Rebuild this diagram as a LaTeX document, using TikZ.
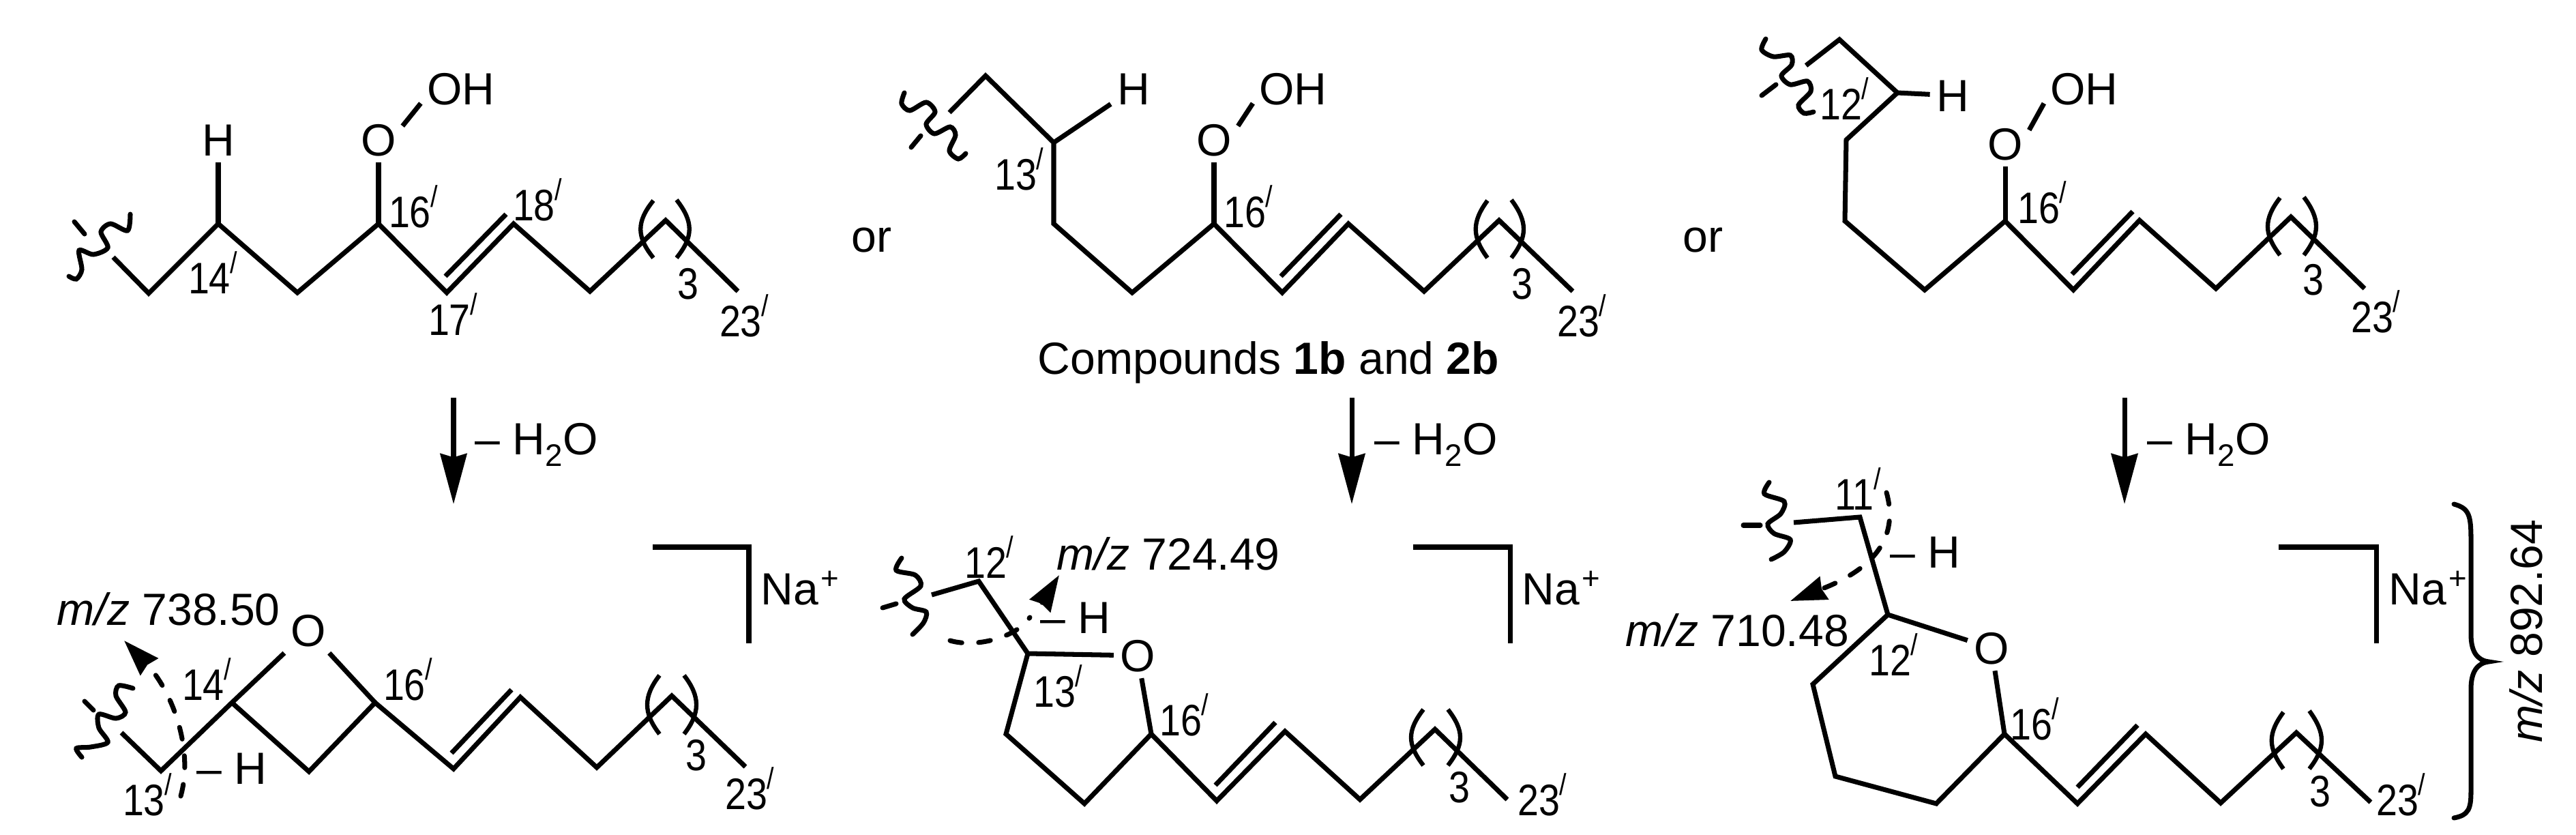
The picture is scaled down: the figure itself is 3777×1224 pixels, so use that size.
\documentclass[tikz,border=0pt]{standalone}
\usepackage{fontspec}
\setmainfont{Liberation Sans}
\newfontfamily\lblfam[FakeStretch=0.86]{Liberation Sans}
\usetikzlibrary{arrows.meta}
\newcommand{\pr}{\rlap{\raisebox{8.5pt}{\fontsize{12.5}{12.5}\selectfont /}}}
\newcommand{\mz}{\textit{m/z}}
\newcommand{\water}{– H\raisebox{-4.7pt}{\fontsize{13}{13}\selectfont 2}O}
\newcommand{\sodium}{Na\hspace{1pt}\raisebox{6.5pt}{\fontsize{13}{13}\selectfont +}}
\tikzset{
  bond/.style={line width=2pt,line join=miter},
  ring/.style={line width=1.8pt},
  wave/.style={line width=2pt,line cap=round},
  txt/.style={font=\fontsize{18.8}{22}\selectfont,text height=13.5pt,text depth=0pt,inner sep=2.5pt},
  lbl/.style={font=\lblfam\fontsize{18.4}{20}\selectfont,text height=13.2pt,text depth=0pt,inner sep=0pt},
  react/.style={line width=2pt,-{Stealth[length=21pt,width=11pt,inset=1.5pt]}},
  hshift/.style={line width=2pt,line cap=round,dash pattern=on 5pt off 7pt,-{Stealth[length=15pt,width=10pt,inset=1pt]}},
  plain/.style={line width=2pt,line cap=round,dash pattern=on 5pt off 7pt}
}
\begin{document}
\begin{tikzpicture}[x=0.01cm,y=-0.01cm]
  \useasboundingbox (0,0) rectangle (3777,1224);
  \path
    (166,377) coordinate (a1)
    (218,430) coordinate (a2)
    (320,328) coordinate (a3)
    (436,429) coordinate (a4)
    (555,328) coordinate (a5)
    (655,429) coordinate (a6)
    (753,328) coordinate (a7)
    (865,427) coordinate (a8)
    (976,323) coordinate (a9)
    (1082,427) coordinate (a10)
    (653,405) coordinate (a11)
    (742,314) coordinate (a12)
    (320,205) node[txt] (ah) {H}
    (555,205) node[txt] (ao) {O}
    (676,130) node[txt] (aoh) {OH}
    (307,407) node[lbl] (al14) {14\pr}
    (601,310) node[lbl] (al16) {16\pr}
    (783,300) node[lbl] (al18) {18\pr}
    (659,468) node[lbl] (al17) {17\pr}
    (1009,415) node[lbl] (al3) {3}
    (1086,470) node[lbl] (al23) {23\pr};
  \draw[bond] (a1) -- (a2) -- (a3) -- (a4) -- (a5) -- (a6) -- (a7) -- (a8) -- (a9) -- (a10);
  \draw[bond] (a11) -- (a12);
  \draw[bond] (a3) -- (ah);
  \draw[bond] (a5) -- (ao);
  \draw[bond] (ao.30) -- (aoh.200);
  \draw[wave] plot[smooth] coordinates {(191,314) (187,338) (162,328) (148,340) (158,363) (137,373) (116,367) (120,395) (112,409) (101,405)};
  \draw[wave] (109,325) -- (124,343);
  \draw[ring] (958,294) .. controls (933,325) and (933,347) .. (958,378);
  \draw[ring] (992,293) .. controls (1017,325) and (1017,347) .. (992,378);
  \path
    (1392,165) coordinate (b1)
    (1445,111) coordinate (b2)
    (1545,209) coordinate (b3)
    (1545,328) coordinate (b4)
    (1660,429) coordinate (b5)
    (1780,328) coordinate (b6)
    (1880,429) coordinate (b7)
    (1977,328) coordinate (b8)
    (2088,427) coordinate (b9)
    (2198,323) coordinate (b10)
    (2306,427) coordinate (b11)
    (1878,405) coordinate (b12)
    (1966,314) coordinate (b13)
    (1662,130) node[txt] (bh) {H}
    (1780,205) node[txt] (bo) {O}
    (1896,130) node[txt] (boh) {OH}
    (1489,255) node[lbl] (bl13) {13\pr}
    (1825,310) node[lbl] (bl16) {16\pr}
    (2232,415) node[lbl] (bl3) {3}
    (2314,470) node[lbl] (bl23) {23\pr};
  \draw[bond] (b1) -- (b2) -- (b3) -- (b4) -- (b5) -- (b6) -- (b7) -- (b8) -- (b9) -- (b10) -- (b11);
  \draw[bond] (b12) -- (b13);
  \draw[bond] (b3) -- (bh);
  \draw[bond] (b6) -- (bo);
  \draw[bond] (bo.30) -- (boh.200);
  \draw[wave] plot[smooth] coordinates {(1326,136) (1322,152) (1334,162) (1358,150) (1371,164) (1358,182) (1370,196) (1393,186) (1401,198) (1392,221) (1405,233) (1416,225)};
  \draw[wave] (1350,199) -- (1336,216);
  \draw[ring] (2181,294) .. controls (2158,325) and (2158,347) .. (2181,378);
  \draw[ring] (2216,293) .. controls (2240,325) and (2240,347) .. (2216,378);
  \path
    (2648,96) coordinate (c1)
    (2697,58) coordinate (c2)
    (2782,136) coordinate (c3)
    (2707,205) coordinate (c4)
    (2705,324) coordinate (c5)
    (2822,425) coordinate (c6)
    (2940,324) coordinate (c7)
    (3040,425) coordinate (c8)
    (3137,323) coordinate (c9)
    (3249,423) coordinate (c10)
    (3359,318) coordinate (c11)
    (3467,423) coordinate (c12)
    (3038,402) coordinate (c13)
    (3127,310) coordinate (c14)
    (2863,140) node[txt] (ch) {H}
    (2940,211) node[txt] (co) {O}
    (3056,130) node[txt] (coh) {OH}
    (2699,152) node[lbl] (cl12) {12\pr}
    (2989,304) node[lbl] (cl16) {16\pr}
    (3392,409) node[lbl] (cl3) {3}
    (3478,464) node[lbl] (cl23) {23\pr};
  \draw[bond] (c1) -- (c2) -- (c3) -- (c4) -- (c5) -- (c6) -- (c7) -- (c8) -- (c9) -- (c10) -- (c11) -- (c12);
  \draw[bond] (c13) -- (c14);
  \draw[bond] (c3) -- (ch);
  \draw[bond] (c7) -- (co);
  \draw[bond] (co.30) -- (coh.200);
  \draw[wave] plot[smooth] coordinates {(2589,57) (2583,73) (2600,83) (2625,81) (2627,95) (2612,111) (2625,124) (2650,119) (2655,134) (2637,154) (2645,166) (2659,164)};
  \draw[wave] (2604,124) -- (2583,140);
  \draw[ring] (3343,290) .. controls (3319,321) and (3319,343) .. (3343,374);
  \draw[ring] (3378,289) .. controls (3402,321) and (3402,343) .. (3378,374);
  \path
    (1278,346) node[txt] (or1) {or}
    (2497,346) node[txt] (or2) {or}
    (1860,525) node[txt] (cmpd) {Compounds \textbf{1b} and \textbf{2b}}
    (665,583) coordinate (r1a)
    (665,739) coordinate (r1b)
    (1982,583) coordinate (r2a)
    (1982,739) coordinate (r2b)
    (3115,583) coordinate (r3a)
    (3115,739) coordinate (r3b)
    (696,643) node[txt,anchor=west,inner sep=0pt] (r1t) {\water}
    (2015,643) node[txt,anchor=west,inner sep=0pt] (r2t) {\water}
    (3148,643) node[txt,anchor=west,inner sep=0pt] (r3t) {\water};
  \draw[react] (r1a) -- (r1b);
  \draw[react] (r2a) -- (r2b);
  \draw[react] (r3a) -- (r3b);
  \path
    (178,1074) coordinate (d1)
    (236,1130) coordinate (d2)
    (340,1030) coordinate (d3)
    (453,1131) coordinate (d4)
    (550,1030) coordinate (d5)
    (665,1127) coordinate (d6)
    (763,1022) coordinate (d7)
    (875,1125) coordinate (d8)
    (985,1020) coordinate (d9)
    (1093,1124) coordinate (d10)
    (662,1104) coordinate (d11)
    (750,1011) coordinate (d12)
    (957,802) coordinate (d13)
    (1098,802) coordinate (d14)
    (1098,943) coordinate (d15)
    (265,1167) coordinate (d16)
    (182,939) coordinate (d17)
    (452,924) node[txt] (do) {O}
    (298,1003) node[lbl] (dl14) {14\pr}
    (593,1003) node[lbl] (dl16) {16\pr}
    (211,1172) node[lbl] (dl13) {13\pr}
    (1021,1106) node[lbl] (dl3) {3}
    (1094,1163) node[lbl] (dl23) {23\pr}
    (83,893) node[txt,anchor=west,inner sep=0pt] (dmz) {\mz{} 738.50}
    (340,1126) node[txt,inner sep=0pt] (dh) {– H}
    (1115,863) node[txt,anchor=west,inner sep=0pt] (dna) {\sodium};
  \draw[bond] (d1) -- (d2) -- (d3) -- (do);
  \draw[bond] (do) -- (d5);
  \draw[bond] (d3) -- (d4) -- (d5) -- (d6) -- (d7) -- (d8) -- (d9) -- (d10);
  \draw[bond] (d11) -- (d12);
  \draw[bond] (d13) -- (d14) -- (d15);
  \draw[hshift] (d16) .. controls (285,1095) and (250,1010) .. (d17);
  \draw[wave] plot[smooth] coordinates {(195,1009) (174,1005) (170,1020) (184,1044) (170,1053) (145,1047) (145,1067) (158,1088) (133,1095) (112,1097) (120,1110)};
  \draw[wave] (124,1028) -- (137,1041);
  \draw[ring] (967,990) .. controls (943,1021) and (943,1045) .. (967,1076);
  \draw[ring] (1003,990) .. controls (1027,1021) and (1027,1045) .. (1003,1076);
  \path
    (1366,872) coordinate (e1)
    (1435,852) coordinate (e2)
    (1507,958) coordinate (e3)
    (1475,1076) coordinate (e4)
    (1590,1178) coordinate (e5)
    (1688,1076) coordinate (e6)
    (1784,1174) coordinate (e7)
    (1884,1072) coordinate (e8)
    (1994,1172) coordinate (e9)
    (2104,1069) coordinate (e10)
    (2210,1172) coordinate (e11)
    (1782,1151) coordinate (e12)
    (1870,1059) coordinate (e13)
    (2072,802) coordinate (e14)
    (2214,802) coordinate (e15)
    (2214,943) coordinate (e16)
    (1393,939) coordinate (e17)
    (1510,905) coordinate (e18)
    (1530,880) coordinate (e19)
    (1553,843) coordinate (e20)
    (1668,961) node[txt] (eo) {O}
    (1445,824) node[lbl] (el12) {12\pr}
    (1546,1013) node[lbl] (el13) {13\pr}
    (1731,1055) node[lbl] (el16) {16\pr}
    (2140,1153) node[lbl] (el3) {3}
    (2256,1172) node[lbl] (el23) {23\pr}
    (1549,812) node[txt,anchor=west,inner sep=0pt] (emz) {\mz{} 724.49}
    (1577,905) node[txt,inner sep=0pt] (eh) {– H}
    (2231,863) node[txt,anchor=west,inner sep=0pt] (ena) {\sodium};
  \draw[bond] (e1) -- (e2) -- (e3) -- (eo);
  \draw[bond] (e3) -- (e4) -- (e5) -- (e6) -- (e7) -- (e8) -- (e9) -- (e10) -- (e11);
  \draw[bond] (eo) -- (e6);
  \draw[bond] (e12) -- (e13);
  \draw[bond] (e14) -- (e15) -- (e16);
  \draw[plain] (e17) .. controls (1430,950) and (1490,935) .. (e18);
  \draw[hshift] (e19) -- (e20);
  \draw[wave] plot[smooth] coordinates {(1322,818) (1314,836) (1342,843) (1350,859) (1326,878) (1338,891) (1358,897) (1354,913) (1338,930)};
  \draw[wave] (1314,885) -- (1294,891);
  \draw[ring] (2087,1040) .. controls (2063,1071) and (2063,1091) .. (2087,1122);
  \draw[ring] (2123,1040) .. controls (2147,1071) and (2147,1091) .. (2123,1122);
  \path
    (2630,766) coordinate (f1)
    (2727,758) coordinate (f2)
    (2768,901) coordinate (f3)
    (2658,1003) coordinate (f4)
    (2691,1138) coordinate (f5)
    (2839,1178) coordinate (f6)
    (2939,1076) coordinate (f7)
    (3046,1178) coordinate (f8)
    (3146,1076) coordinate (f9)
    (3256,1177) coordinate (f10)
    (3367,1074) coordinate (f11)
    (3476,1176) coordinate (f12)
    (3046,1154) coordinate (f13)
    (3134,1063) coordinate (f14)
    (3341,802) coordinate (f15)
    (3484,802) coordinate (f16)
    (3484,943) coordinate (f17)
    (2766,722) coordinate (f18)
    (2625,881) coordinate (f19)
    (2920,950) node[txt] (fo) {O}
    (2719,724) node[lbl] (fl11) {11\pr}
    (2771,967) node[lbl] (fl12) {12\pr}
    (2978,1061) node[lbl] (fl16) {16\pr}
    (3402,1159) node[lbl] (fl3) {3}
    (3515,1172) node[lbl] (fl23) {23\pr}
    (2383,924) node[txt,anchor=west,inner sep=0pt] (fmz) {\mz{} 710.48}
    (2823,809) node[txt,inner sep=0pt] (fh) {– H}
    (3502,863) node[txt,anchor=west,inner sep=0pt] (fna) {\sodium}
    (3704,925) node[txt,rotate=90,inner sep=0pt] (fmzb) {\mz{} 892.64};
  \draw[bond] (f1) -- (f2) -- (f3) -- (fo);
  \draw[bond] (f3) -- (f4) -- (f5) -- (f6) -- (f7) -- (f8) -- (f9) -- (f10) -- (f11) -- (f12);
  \draw[bond] (fo) -- (f7);
  \draw[bond] (f13) -- (f14);
  \draw[bond] (f15) -- (f16) -- (f17);
  \draw[hshift] (f18) .. controls (2785,790) and (2745,835) .. (f19);
  \draw[wave] plot[smooth] coordinates {(2594,707) (2587,724) (2616,735) (2611,753) (2592,768) (2601,782) (2625,791) (2616,809) (2597,820)};
  \draw[wave] (2556,770) -- (2581,770);
  \draw[ring] (3348,1044) .. controls (3325,1075) and (3325,1096) .. (3348,1127);
  \draw[ring] (3386,1042) .. controls (3410,1075) and (3410,1096) .. (3386,1127);
  \draw[bond,line cap=round] (3598,739) .. controls (3620,745) and (3623,755) .. (3623,790) -- (3623,930) .. controls (3623,955) and (3632,968) .. (3649,970) .. controls (3632,972) and (3623,985) .. (3623,1010) -- (3623,1160) .. controls (3623,1185) and (3620,1195) .. (3598,1199);
\end{tikzpicture}
\end{document}
